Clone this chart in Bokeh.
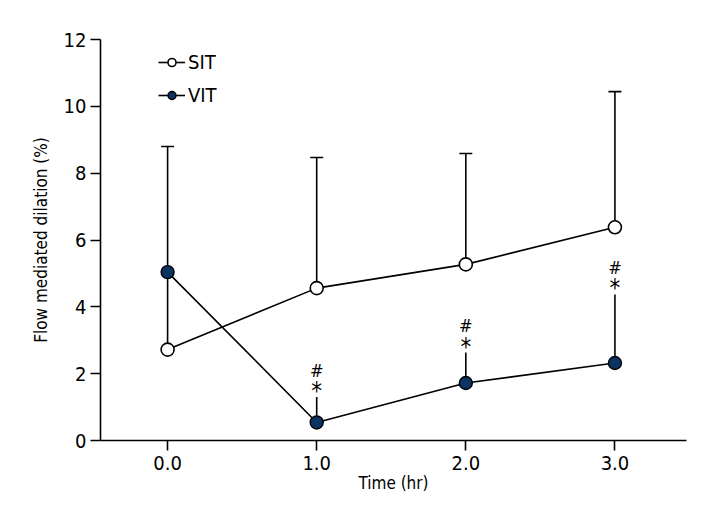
from bokeh.plotting import figure
from bokeh.models import Range1d, FixedTicker, Whisker, TeeHead, Legend, LegendItem, ColumnDataSource
from bokeh.core.properties import value
from bokeh.embed import file_html
from bokeh.resources import INLINE

time = [0.0, 1.0, 2.0, 3.0]
tick_labels = {0: "0.0", 1: "1.0", 2: "2.0", 3: "3.0"}
sit_mean = [2.72, 4.56, 5.27, 6.38]
sit_upper = [8.8, 8.47, 8.59, 10.44]
vit_mean = [5.04, 0.54, 1.72, 2.32]
vit_upper = [5.04, 1.30, 2.63, 4.37]
sig_idx = [1, 2, 3]

FONT = "'DejaVu Sans Condensed', Roboto, sans-serif"
NAVY = "#0b3463"

p = figure(width=712, height=518, output_backend="svg", toolbar_location=None,
           x_range=Range1d(-0.45, 3.48), y_range=Range1d(0, 12),
           min_border_left=100, min_border_right=26, min_border_top=39, min_border_bottom=78)
p.outline_line_color = None
p.grid.visible = False
p.background_fill_color = "white"

for ax in (p.xaxis[0], p.yaxis[0]):
    ax.axis_line_width = 1.6
    ax.axis_line_color = "black"
    ax.major_tick_line_width = 1.6
    ax.major_tick_line_color = "black"
    ax.major_tick_out = 10
    ax.major_tick_in = 0
    ax.minor_tick_line_color = None
    ax.major_label_text_font = FONT
    ax.major_label_text_font_size = "20px"
    ax.major_label_text_color = "black"
    ax.axis_label_text_font = FONT
    ax.axis_label_text_font_size = "17px"
    ax.axis_label_text_font_style = "normal"
    ax.axis_label_text_color = "black"

p.xaxis.ticker = FixedTicker(ticks=time)
p.xaxis.major_label_overrides = tick_labels
p.xaxis.axis_label = "Time (hr)"
p.xaxis.axis_label_standoff = 0
p.yaxis.ticker = FixedTicker(ticks=[0, 2, 4, 6, 8, 10, 12])
p.yaxis.axis_label = "Flow mediated dilation (%)"
p.yaxis.major_label_standoff = 4
p.yaxis.axis_label_standoff = 10

sit_src = ColumnDataSource(dict(x=time, m=sit_mean, u=sit_upper))
vit_sig = ColumnDataSource(dict(x=[time[i] for i in sig_idx],
                                m=[vit_mean[i] for i in sig_idx],
                                u=[vit_upper[i] for i in sig_idx]))

p.add_layout(Whisker(source=sit_src, base="x", lower="m", upper="u", dimension="height",
                     line_width=1.6, line_color="black", lower_head=None,
                     upper_head=TeeHead(size=13, line_width=1.6, line_color="black")))
p.add_layout(Whisker(source=vit_sig, base="x", lower="m", upper="u", dimension="height",
                     line_width=1.6, line_color="black", lower_head=None, upper_head=None))

l_sit = p.line(time, sit_mean, line_color="black", line_width=1.6)
l_vit = p.line(time, vit_mean, line_color="black", line_width=1.6)
c_sit = p.scatter(time, sit_mean, size=13, fill_color="white", line_color="black", line_width=1.6)
c_vit = p.scatter(time, vit_mean, size=13, fill_color=NAVY, line_color="black", line_width=1.4)

ann = ColumnDataSource(dict(x=[time[i] for i in sig_idx], y=[vit_upper[i] for i in sig_idx],
                            star=["*"] * len(sig_idx), hash=["#"] * len(sig_idx)))
p.text(x="x", y="y", text="star", source=ann, text_font=value(FONT), text_font_size="24px",
       text_align="center", text_baseline="middle", y_offset=-6, text_color="black")
p.text(x="x", y="y", text="hash", source=ann, text_font=value(FONT), text_font_size="18px",
       text_align="center", text_baseline="middle", y_offset=-27, text_color="black")

legend = Legend(items=[LegendItem(label="SIT", renderers=[l_sit, c_sit]),
                       LegendItem(label="VIT", renderers=[l_vit, c_vit])],
                location=(58, 333))
legend.padding = 0
legend.margin = 0
legend.border_line_color = None
legend.background_fill_alpha = 0
legend.glyph_width = 27
legend.glyph_height = 20
legend.label_height = 20
legend.spacing = 9
legend.label_standoff = 3
legend.label_text_font = FONT
legend.label_text_font_size = "20px"
legend.label_text_color = "black"
p.add_layout(legend, "center")

open("out.html", "w").write(file_html(p, INLINE))
